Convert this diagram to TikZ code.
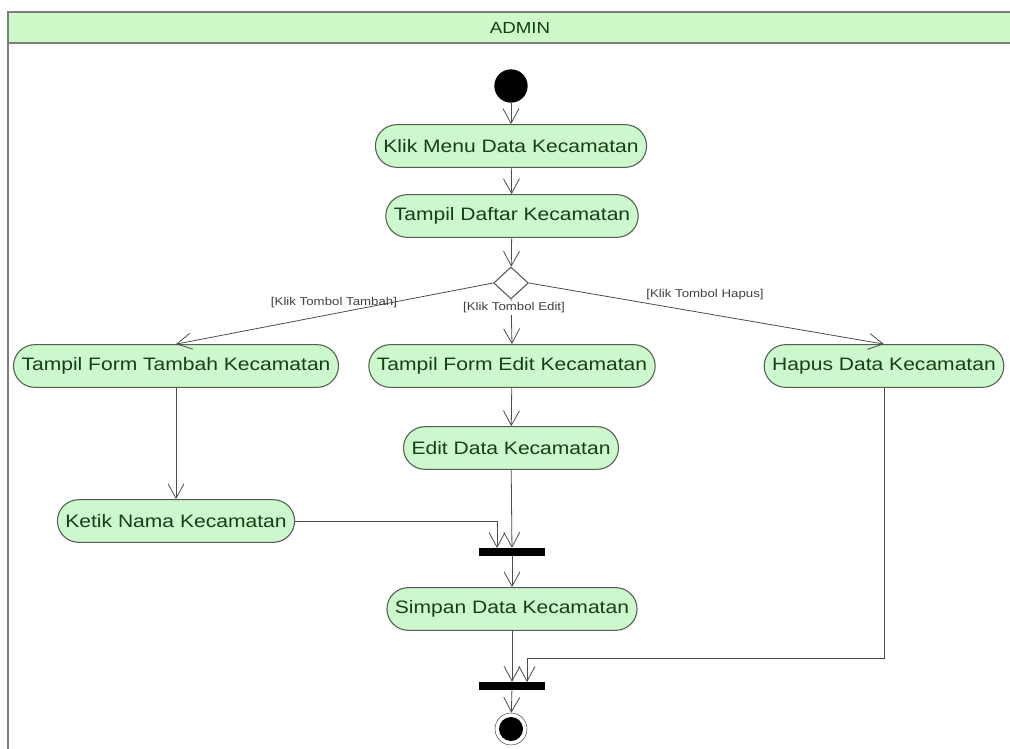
\documentclass[tikz,border=0pt]{standalone}
\usepackage{fontspec}
\setmainfont{Liberation Sans}
\newfontfamily\actfont[FakeStretch=1.17]{Liberation Sans}
\usetikzlibrary{arrows.meta, shapes.geometric}
\definecolor{actfill}{RGB}{205,248,205}
\definecolor{headfill}{RGB}{205,250,200}
\definecolor{acttext}{RGB}{20,65,20}
\definecolor{actline}{RGB}{80,95,80}
\definecolor{laneline}{RGB}{125,125,125}
\tikzset{
    action/.style={draw=actline, line width=0.8pt, fill=actfill, text=acttext, rounded corners=16pt,
        minimum height=32pt, inner xsep=6pt, font=\actfont\fontsize{13.5}{15}\selectfont},
    flow/.style={-{Straight Barb[length=11pt,width=12pt]}, draw=black!70, semithick},
    guard/.style={font=\actfont\fontsize{8.5}{10}\selectfont, text=black!75, inner sep=1pt},
    syncbar/.style={fill=black, minimum width=49pt, minimum height=6pt, inner sep=0pt},
    startdot/.style={circle, fill=black, minimum size=25pt, inner sep=0pt},
}

\begin{document}
\begin{tikzpicture}[x=0.75pt, y=-0.75pt]
    \useasboundingbox (0,0) rectangle (1010,749);
    % swimlane
    \fill[headfill] (8,12) rectangle (1015,43);
    \draw[laneline, line width=1.5pt] (8,749) -- (8,12) -- (1015,12);
    \draw[laneline, line width=2pt] (8,43) -- (1015,43);
    \node[text=acttext, font=\actfont\fontsize{12}{14}\selectfont] (lane) at (520,28) {ADMIN};

    \node[startdot] (start) at (511,86) {};
    \node[action] (klikmenu) at (511,146) {Klik Menu Data Kecamatan};
    \node[action] (daftar) at (512,216) {Tampil Daftar Kecamatan};
    \node[diamond, draw=actline, line width=0.8pt, fill=white, minimum width=26pt, minimum height=24pt, inner sep=0pt] (pilih) at (511,283) {};
    \node[action] (formtambah) at (176,366) {Tampil Form Tambah Kecamatan};
    \node[action] (formedit) at (512,366) {Tampil Form Edit Kecamatan};
    \node[action] (hapus) at (884,366) {Hapus Data Kecamatan};
    \node[action] (editdata) at (511,448) {Edit Data Kecamatan};
    \node[action] (ketik) at (176,521) {Ketik Nama Kecamatan};
    \node[syncbar] (join1) at (512,552) {};
    \node[action] (simpan) at (512,609) {Simpan Data Kecamatan};
    \node[syncbar] (join2) at (512,686) {};
    \node[circle, draw=black!70, fill=white, minimum size=24pt, inner sep=0pt] (finish) at (511,729) {};
    \node[startdot, minimum size=18pt] (finishdot) at (finish) {};

    \coordinate (join1in) at (497,548);
    \coordinate (join2turn) at (527,658);
    \coordinate (join2in) at (527,682);

    \draw[flow] (start) -- (klikmenu);
    \draw[flow] (klikmenu) -- (daftar);
    \draw[flow] (daftar) -- (pilih);
    \draw[flow] (pilih.west) -- (formtambah.north);
    \draw[flow] (pilih.south) -- (formedit.north);
    \draw[flow] (pilih.east) -- (hapus.north);
    \node[guard] (gtambah) at (334,303) {[Klik Tombol Tambah]};
    \node[guard, fill=white] (gedit) at (514,308) {[Klik Tombol Edit]};
    \node[guard] (ghapus) at (705,295) {[Klik Tombol Hapus]};
    \draw[flow] (formtambah) -- (ketik);
    \draw[flow] (formedit) -- (editdata);
    \draw[flow] (ketik.east) -| (join1in);
    \draw[flow] (editdata) -- (join1);
    \draw[flow] (join1) -- (simpan);
    \draw[flow] (simpan) -- (join2);
    \draw[flow] (hapus.south) |- (join2turn) -- (join2in);
    \draw[flow] (join2) -- (finish);
\end{tikzpicture}
\end{document}
